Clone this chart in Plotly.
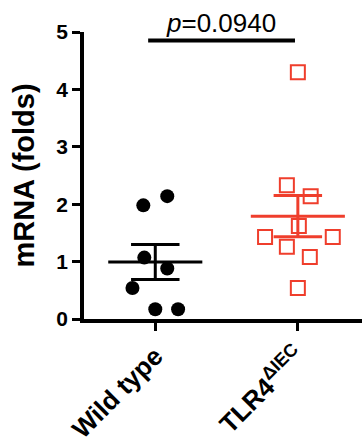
import numpy as np
import plotly.graph_objects as go

# ---- data ----
categories = ["Wild type", "TLR4<sup>ΔIEC</sup>"]
wt_values = [1.98, 2.14, 1.07, 0.88, 0.54, 0.17, 0.17]
wt_jitter = [-0.084, 0.084, -0.077, 0.084, -0.16, 0.0, 0.16]
ko_values = [2.33, 2.14, 1.62, 1.43, 1.43, 1.26, 1.08, 0.54, 4.30]
ko_jitter = [-0.077, 0.09, 0.007, -0.23, 0.245, -0.077, 0.084, 0.0, 0.0]
y_ticks = [0, 1, 2, 3, 4, 5]
p_text = "<i>p</i>=0.0940"

BLACK = "#000000"
RED = "#EF3E2C"
FONT = "Arial, Liberation Sans, Helvetica, sans-serif"

fig = go.Figure()

# points
fig.add_trace(go.Scatter(
    x=[0 + j for j in wt_jitter], y=wt_values, mode="markers",
    marker=dict(symbol="circle", size=14, color=BLACK),
    showlegend=False, hoverinfo="y", cliponaxis=False))
fig.add_trace(go.Scatter(
    x=[1 + j for j in ko_jitter], y=ko_values, mode="markers",
    marker=dict(symbol="square-open", size=14, color=RED, line=dict(width=2, color=RED)),
    showlegend=False, hoverinfo="y", cliponaxis=False))

# mean +/- SEM
for i, (vals, col) in enumerate([(wt_values, BLACK), (ko_values, RED)]):
    v = np.array(vals)
    m = v.mean()
    sem = v.std(ddof=1) / np.sqrt(len(v))
    fig.add_trace(go.Scatter(x=[i - 0.33, i + 0.33], y=[m, m], mode="lines",
                             line=dict(color=col, width=3), showlegend=False, hoverinfo="skip"))
    fig.add_trace(go.Scatter(x=[i, i], y=[m - sem, m + sem], mode="lines",
                             line=dict(color=col, width=3), showlegend=False, hoverinfo="skip"))
    for yy in (m - sem, m + sem):
        fig.add_trace(go.Scatter(x=[i - 0.17, i + 0.17], y=[yy, yy], mode="lines",
                                 line=dict(color=col, width=3), showlegend=False, hoverinfo="skip"))

# significance bar
fig.add_trace(go.Scatter(x=[-0.05, 0.98], y=[4.85, 4.85], mode="lines",
                         line=dict(color=BLACK, width=4), showlegend=False, hoverinfo="skip",
                         cliponaxis=False))
fig.add_annotation(x=0.46, y=4.86, xref="x", yref="y", text=p_text, showarrow=False,
                   yanchor="bottom", xanchor="center",
                   font=dict(family=FONT, size=26, color=BLACK))

fig.update_layout(
    width=362, height=445,
    margin=dict(l=84, r=0, t=32, b=126, pad=0),
    plot_bgcolor="white", paper_bgcolor="white",
    font=dict(family=FONT, color=BLACK),
    xaxis=dict(range=[-0.5, 1.45], tickvals=[0, 1], ticktext=["<b>Wild type</b>", "<b>TLR4<sup>ΔIEC</sup></b>"],
               tickangle=-45, showline=True, linecolor=BLACK, linewidth=3.5,
               ticks="outside", ticklen=8, tickwidth=3, tickcolor=BLACK,
               showgrid=False, zeroline=False, automargin=False,
               tickfont=dict(family=FONT, size=26, color=BLACK)),
    yaxis=dict(range=[0, 5], tickvals=y_ticks, ticktext=[f"<b>{t}</b>" for t in y_ticks],
               showline=True, linecolor=BLACK, linewidth=3.5,
               ticks="outside", ticklen=8, tickwidth=3, tickcolor=BLACK,
               showgrid=False, zeroline=False, automargin=False,
               tickfont=dict(family=FONT, size=21, color=BLACK),
               title=dict(text="<b>mRNA (folds)</b>", standoff=14,
                          font=dict(family=FONT, size=29, color=BLACK))),
)

fig.write_html("out.html", config={"displayModeBar": False},
               post_script="document.body.style.margin='0';document.body.style.overflow='hidden';")
